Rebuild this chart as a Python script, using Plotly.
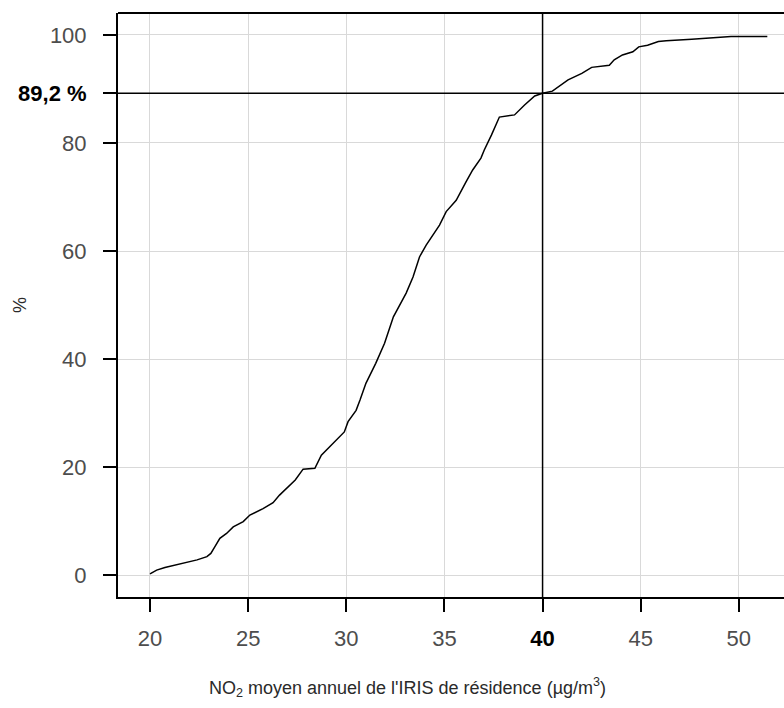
import plotly.graph_objects as go

# ECDF of annual mean NO2 (µg/m3) -> cumulative % of population
no2_values = [20.0, 20.34, 20.76, 21.5, 22.4, 22.9, 23.1, 23.3, 23.56, 23.9,
              24.24, 24.75, 25.09, 25.76, 26.27, 26.6, 26.95, 27.4, 27.8, 28.4,
              28.73, 29.24, 29.9, 30.09, 30.5, 30.7, 31.0, 31.5, 31.95, 32.4,
              33.05, 33.4, 33.73, 34.07, 34.75, 35.09, 35.6, 36.1, 36.44, 36.86,
              37.03, 37.4, 37.8, 38.57, 39.07, 39.6, 40.0, 40.5, 40.9, 41.3,
              42.0, 42.5, 43.4, 43.65, 44.07, 44.6, 44.9, 45.35, 45.9, 46.3,
              47.6, 49.6, 51.45]
cum_percent = [0.2, 0.9, 1.4, 2.0, 2.8, 3.4, 4.0, 5.2, 6.8, 7.7,
               8.9, 9.9, 11.1, 12.3, 13.4, 14.8, 16.05, 17.6, 19.6, 19.75,
               22.2, 24.1, 26.5, 28.4, 30.5, 32.4, 35.5, 39.2, 42.9, 47.8,
               52.2, 55.2, 58.9, 61.1, 64.8, 67.3, 69.4, 72.8, 75.0, 77.2,
               78.7, 81.5, 84.8, 85.2, 87.0, 88.7, 89.2, 89.6, 90.7, 91.7,
               92.9, 94.0, 94.4, 95.4, 96.3, 96.9, 97.8, 98.1, 98.8, 98.95,
               99.2, 99.7, 99.7]

threshold = 40
threshold_pct = 89.2

x_ticks = [20, 25, 30, 35, 40, 45, 50]
x_ticktext = ["20", "25", "30", "35", "<span style='color:black'><b>40</b></span>", "45", "50"]
y_ticks = [0, 20, 40, 60, 80, 89.2, 100]
y_ticktext = ["0", "20", "40", "60", "80", "<span style='color:black'><b>89,2 %</b></span>", "100"]

x_title = "NO<sub>2</sub> moyen annuel de l'IRIS de résidence (µg/m<sup>3</sup>)"
y_title = "%"

FONT = "Liberation Sans, Arial, sans-serif"
TICKCOL = "#4d4d4d"
TITLECOL = "#2a2a2a"

fig = go.Figure()
fig.add_trace(go.Scatter(x=no2_values, y=cum_percent, mode="lines",
                         line=dict(color="black", width=1.5, shape="linear"),
                         hoverinfo="skip", showlegend=False))

fig.add_shape(type="line", xref="x", yref="paper", x0=threshold, x1=threshold, y0=0, y1=1,
              line=dict(color="black", width=1.5))
fig.add_shape(type="line", xref="paper", yref="y", x0=0, x1=1, y0=threshold_pct, y1=threshold_pct,
              line=dict(color="black", width=1.5))
fig.add_shape(type="line", xref="paper", yref="paper", x0=0, x1=1, y0=1, y1=1,
              line=dict(color="black", width=2))

fig.add_annotation(text=x_title, xref="paper", yref="paper", x=0.434, y=-0.155,
                   xanchor="center", yanchor="middle", showarrow=False,
                   font=dict(size=18, color=TITLECOL))
fig.add_annotation(text=y_title, xref="paper", yref="paper", x=-0.147, y=0.5,
                   xanchor="center", yanchor="middle", showarrow=False, textangle=-90,
                   font=dict(size=18, color=TITLECOL))

fig.update_layout(
    width=784, height=708,
    margin=dict(l=118, r=0, t=13, b=111),
    paper_bgcolor="white", plot_bgcolor="white",
    font=dict(family=FONT, size=22, color=TICKCOL),
    xaxis=dict(range=[18.37, 52.3], tickvals=x_ticks, ticktext=x_ticktext,
               showgrid=True, gridcolor="#d9d9d9", gridwidth=1, zeroline=False,
               showline=True, linecolor="black", linewidth=2, automargin=False,
               ticks="outside", ticklen=13, tickwidth=1.5, tickcolor="black",
               ticklabelstandoff=8, tickfont=dict(size=22, color=TICKCOL)),
    yaxis=dict(range=[-4.07, 104.07], tickvals=y_ticks, ticktext=y_ticktext,
               showgrid=True, gridcolor="#d9d9d9", gridwidth=1, zeroline=False,
               showline=True, linecolor="black", linewidth=2, automargin=False,
               ticks="outside", ticklen=13, tickwidth=1.5, tickcolor="black",
               ticklabelstandoff=12, tickfont=dict(size=22, color=TICKCOL)),
)

fig.write_html("out.html")
